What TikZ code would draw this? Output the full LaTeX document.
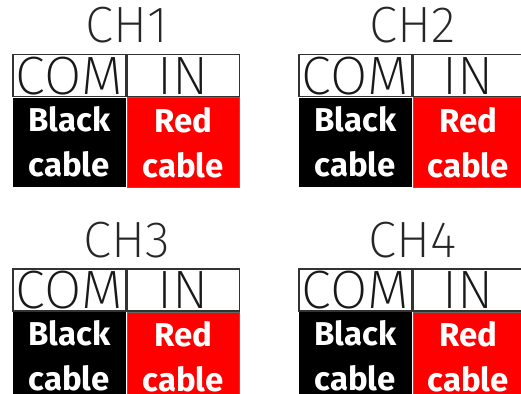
\documentclass[tikz,border=0pt]{standalone}
\usepackage{fontspec}
\setmainfont{Fira Sans}
\newfontfamily\lightfont{Fira Sans ExtraLight}
\usetikzlibrary{positioning}

\tikzset{
  chtitle/.style={font=\lightfont\fontsize{51}{51}\selectfont, text=black!85, inner sep=0pt},
  headcell/.style={draw=black!80, line width=1.5pt, fill=white, minimum width=#1,
    minimum height=42pt, inner sep=0pt, font=\lightfont\fontsize{54}{54}\selectfont, text=black!90},
  blackcell/.style={fill=black, minimum width=113pt, minimum height=89pt, inner sep=0pt,
    align=center, text=white, font=\bfseries\fontsize{33}{45}\selectfont},
  redcell/.style={draw=black!60, line width=1pt, fill=red, minimum width=#1, minimum height=89pt,
    inner sep=0pt, align=center, text=white, font=\bfseries\fontsize{33}{45}\selectfont},
}

\begin{document}
\begin{tikzpicture}[x=1pt, y=-1pt]
\useasboundingbox (0,0) rectangle (521,393);
\clip (0,0) rectangle (521,393);
% CH1
\node[headcell=113pt, anchor=north west] (com1) at (12,54) {COM};
\node[headcell=112pt, right=0pt of com1] (in1) {IN};
\node[blackcell, below=0pt of com1] (blk1) {Black\\cable};
\node[redcell=112pt, below=0pt of in1] (red1) {Red\\cable};
\node[chtitle, above=11pt of com1.north east, anchor=base] (ch1) {CH1};
% CH2
\node[headcell=113pt, anchor=north west] (com2) at (298,54) {COM};
\node[headcell=110pt, right=0pt of com2] (in2) {IN};
\node[blackcell, below=0pt of com2] (blk2) {Black\\cable};
\node[redcell=110pt, below=0pt of in2] (red2) {Red\\cable};
\node[chtitle, above=11pt of com2.north east, anchor=base] (ch2) {CH2};
% CH3
\node[headcell=113pt, anchor=north west] (com3) at (12,268) {COM};
\node[headcell=112pt, right=0pt of com3] (in3) {IN};
\node[blackcell, below=0pt of com3] (blk3) {Black\\cable};
\node[redcell=112pt, below=0pt of in3] (red3) {Red\\cable};
\node[chtitle, above=11pt of com3.north east, anchor=base] (ch3) {CH3};
% CH4
\node[headcell=113pt, anchor=north west] (com4) at (298,268) {COM};
\node[headcell=110pt, right=0pt of com4] (in4) {IN};
\node[blackcell, below=0pt of com4] (blk4) {Black\\cable};
\node[redcell=110pt, below=0pt of in4] (red4) {Red\\cable};
\node[chtitle, above=11pt of com4.north east, anchor=base] (ch4) {CH4};
\end{tikzpicture}
\end{document}
